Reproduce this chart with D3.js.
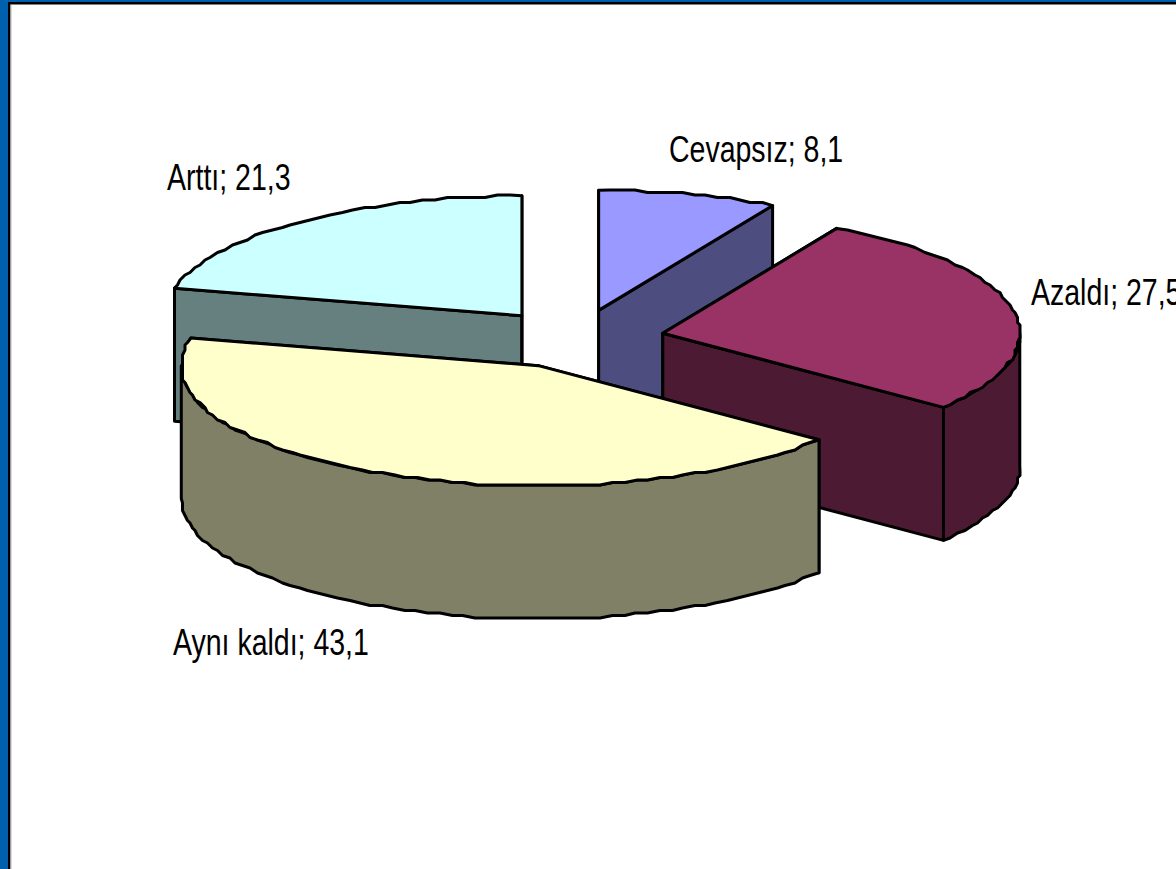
<!DOCTYPE html>
<html><head><meta charset="utf-8">
<script src="https://cdnjs.cloudflare.com/ajax/libs/d3/7.8.5/d3.min.js"></script>
<style>html,body{margin:0;padding:0;background:#fff;overflow:hidden}svg{display:block}</style>
</head><body><svg id="c" width="1176" height="869"></svg>
<script>
const categories = ["Cevapsız", "Azaldı", "Aynı kaldı", "Arttı"];
const values = [8.1, 27.5, 43.1, 21.3];
const topColors = ["#9999ff", "#993366", "#ffffcc", "#ccffff"];
const wallColors = ["#4d4d80", "#4d1a33", "#808066", "#668080"];
const drawOrder = ["Arttı", "Cevapsız", "Azaldı", "Aynı kaldı"];

const W = 1176, H = 869;
const svg = d3.select("#c").attr("viewBox", [0, 0, W, H]);
const cx = 576.5, cy = 339, rx = 357, ry = 120, depth = 133, explode = 88 / 357;
const sx = d3.scaleLinear().domain([-1, 1]).range([-rx, rx]);
const sy = d3.scaleLinear().domain([-1, 1]).range([-ry, ry]);

// frame
svg.append("rect").attr("width", W).attr("height", H).attr("fill", "#fff");
svg.append("rect").attr("x", 0).attr("y", 0).attr("width", 8).attr("height", H).attr("fill", "#0060ae");
svg.append("rect").attr("x", 0).attr("y", 0).attr("width", W).attr("height", 2).attr("fill", "#0060ae");
svg.append("rect").attr("x", 8).attr("y", 2).attr("width", W - 8).attr("height", 2.5).attr("fill", "#000");
svg.append("rect").attr("x", 8).attr("y", 2).attr("width", 2.5).attr("height", H).attr("fill", "#000");
svg.append("rect").attr("x", 10.5).attr("y", 4.5).attr("width", 1).attr("height", H).attr("fill", "#bbb");

const arcs = d3.pie().sort(null).value(d => d)(values);
const line = d3.line();
const snap = v => Math.round(v / 2.5) * 2.5;

function rim(c, a0, a1) {
  const n = Math.max(1, Math.round((a1 - a0) / (Math.PI / 90)));
  return d3.range(n + 1).map(i => {
    const t = a0 + (a1 - a0) * i / n;
    const x = c[0] + sx(Math.sin(t)), y = c[1] + sy(-Math.cos(t));
    return (i === 0 || i === n) ? [x, y] : [snap(x), snap(y)];
  });
}
const down = p => [p[0], p[1] + depth];

const g = svg.append("g").attr("stroke", "#000").attr("stroke-linejoin", "round");

drawOrder.forEach(name => {
  const i = categories.indexOf(name), a = arcs[i];
  const mid = (a.startAngle + a.endAngle) / 2;
  const c = [cx + sx(Math.sin(mid)) * explode, cy + sy(-Math.cos(mid)) * explode];
  const edge = rim(c, a.startAngle, a.endAngle);
  const first = edge[0], last = edge[edge.length - 1];
  const s = g.append("g").attr("class", "slice").attr("stroke-width", 3);

  // cut faces
  [first, last].forEach(p => {
    s.append("path").attr("fill", wallColors[i])
      .attr("d", line([c, p, down(p), down(c)]) + "Z");
  });
  // outer wall: the part of the rim turned towards the viewer
  const w0 = Math.max(a.startAngle, Math.PI / 2), w1 = Math.min(a.endAngle, 3 * Math.PI / 2);
  if (w1 > w0) {
    const r = rim(c, w0, w1);
    s.append("path").attr("fill", wallColors[i])
      .attr("d", line(r.concat(r.map(down).reverse())) + "Z");
  }
  // top
  s.append("path").attr("fill", topColors[i])
    .attr("d", line([c].concat(edge)) + "Z");
});

// labels
const labelX = [669, 1031, 173, 167], labelY = [162, 305, 655, 190];
const labelScaleX = 0.77;
svg.append("g").selectAll("text").data(categories).join("text")
  .attr("transform", (d, i) => `translate(${labelX[i]},${labelY[i]}) scale(${labelScaleX},1)`)
  .attr("font-family", "'Liberation Sans', Arial, sans-serif")
  .attr("font-size", 37).attr("fill", "#000")
  .text((d, i) => d + "; " + String(values[i]).replace(".", ","));
</script></body></html>
